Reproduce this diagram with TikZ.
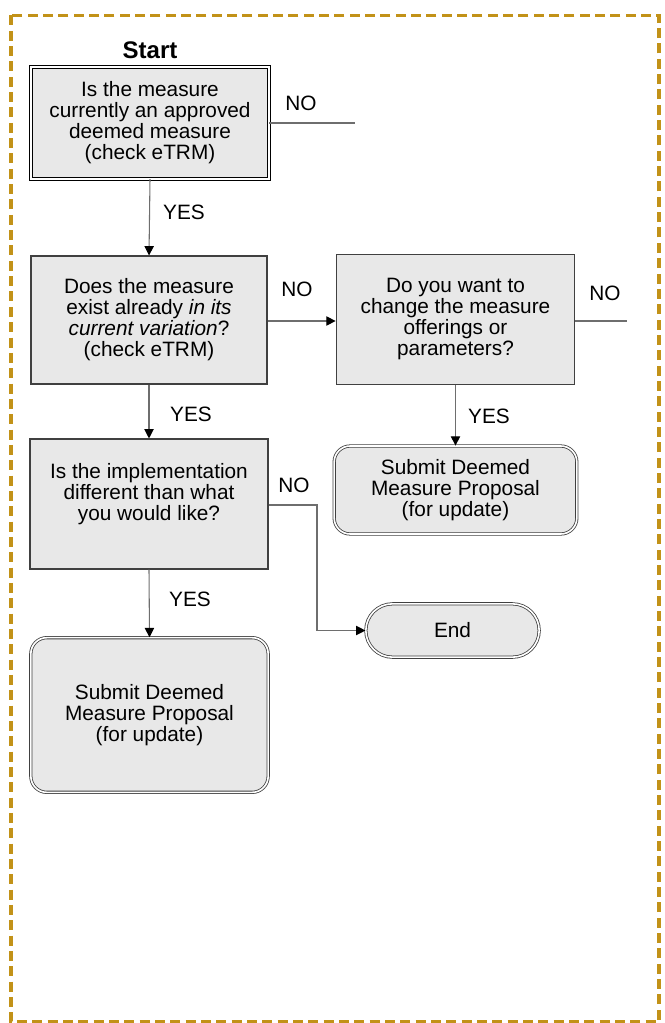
\documentclass[tikz,border=0pt]{standalone}
\usepackage{fontspec}
\setmainfont{Liberation Sans}
\usetikzlibrary{arrows.meta,shapes.misc}
\definecolor{gold}{RGB}{194,146,24}
\definecolor{boxfill}{RGB}{232,232,232}
\definecolor{edge}{RGB}{64,64,64}
\definecolor{conn}{RGB}{110,110,110}
\begin{document}
\begin{tikzpicture}[x=0.75pt,y=-0.75pt,
  every node/.style={font=\fontsize{15.6}{15.75}\selectfont, inner sep=0pt},
  box/.style={draw=edge, line width=0.8pt, fill=boxfill, align=center},
  startbox/.style={draw=black, line width=0.8pt, double=white, double distance=1.5pt, fill=boxfill, align=center},
  endbox/.style={draw=edge, line width=0.6pt, double=white, double distance=1.2pt, fill=boxfill, align=center, rounded corners=12pt},
  stadium/.style={draw=edge, line width=0.6pt, double=white, double distance=1.2pt, fill=boxfill, align=center, rounded rectangle},
  lbl/.style={anchor=center},
  conn/.style={draw=conn, line width=0.8pt},
  arr/.style={conn, -{Triangle[length=7pt,width=7pt,color=black]}}
]
\useasboundingbox (0,0) rectangle (664,1023);
\draw[gold, line width=2.4pt, dash pattern=on 7.5pt off 4pt] (11,15.5) rectangle (659,1021.5);

\node[font=\fontsize{18}{20}\selectfont\bfseries] (start) at (150,50) {Start};

\node[startbox, minimum width=178pt, minimum height=83.5pt] (b1) at (150,123)
  {Is the measure\\currently an approved\\deemed measure\\(check eTRM)};
\node[box, minimum width=177pt, minimum height=96pt] (b2) at (149,320)
  {Does the measure\\exist already \textit{in its}\\\textit{current variation}?\\(check eTRM)};
\node[box, minimum width=179pt, minimum height=98pt] (b3) at (455.5,319.5)
  {Do you want to\\change the measure\\offerings or\\parameters?};
\node[endbox, minimum width=182pt, minimum height=66pt] (s1) at (455.5,490)
  {Submit Deemed\\Measure Proposal\\(for update)};
\node[box, minimum width=178.5pt, minimum height=97.5pt] (b4) at (149,504)
  {Is the implementation\\different than what\\you would like?\\[2pt]};
\node[stadium, minimum width=130pt, minimum height=40pt] (end) at (452.5,630.5) {End};
\node[endbox, minimum width=178pt, minimum height=116pt] (s2) at (149.5,715)
  {Submit Deemed\\Measure Proposal\\(for update)};

\coordinate (n1) at (355,123);
\coordinate (n3) at (627,321);
\coordinate (k4) at (317,505);

\draw[conn] (b1.east) -- (n1);
\draw[arr] (b1.south) -- (b2.north);
\draw[arr] (b2.east |- 0,321) -- (b3.west |- 0,321);
\draw[conn] (b3.east |- 0,321) -- (n3);
\draw[arr] (b3.south) -- (s1.north);
\draw[arr] (b2.south) -- (b4.north);
\draw[arr] (b4.east |- k4) -- (k4) |- (end.west);
\draw[arr] (b4.south) -- (s2.north);

\node[lbl] (no1) at (301,103) {NO};
\node[lbl] (yes1) at (184,212) {YES};
\node[lbl] (no2) at (297,289) {NO};
\node[lbl] (no3) at (605,293) {NO};
\node[lbl] (yes3) at (489,416) {YES};
\node[lbl] (yes2) at (191,414) {YES};
\node[lbl] (no4) at (294,485) {NO};
\node[lbl] (yes4) at (190,599) {YES};
\end{tikzpicture}
\end{document}
